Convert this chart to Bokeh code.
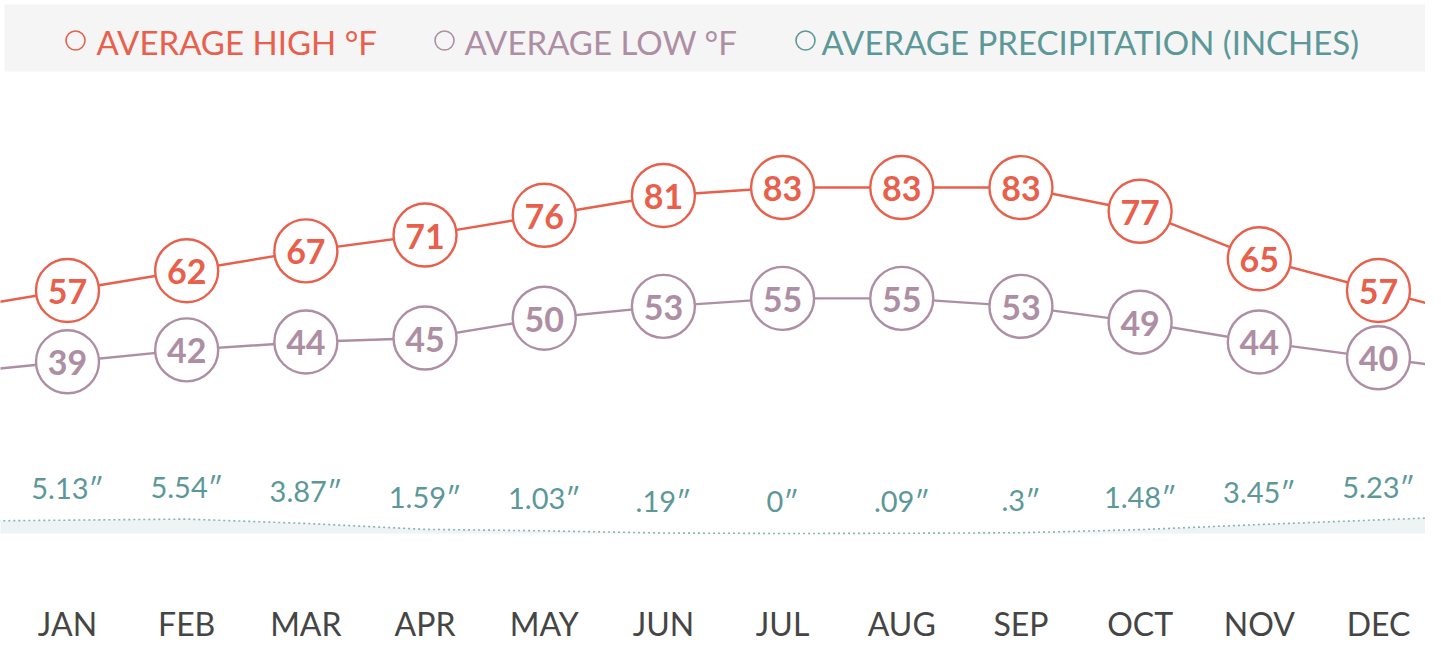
from bokeh.plotting import figure
from bokeh.models import Range1d, BoxAnnotation
from bokeh.embed import file_html
from bokeh.resources import INLINE
from bokeh.core.properties import value

# ---------------- data ----------------
months = ["JAN", "FEB", "MAR", "APR", "MAY", "JUN", "JUL", "AUG", "SEP", "OCT", "NOV", "DEC"]
avg_high = [57, 62, 67, 71, 76, 81, 83, 83, 83, 77, 65, 57]
avg_low = [39, 42, 44, 45, 50, 53, 55, 55, 53, 49, 44, 40]
precip = [5.13, 5.54, 3.87, 1.59, 1.03, 0.19, 0.0, 0.09, 0.3, 1.48, 3.45, 5.23]
precip_labels = ["5.13\u2033", "5.54\u2033", "3.87\u2033", "1.59\u2033", "1.03\u2033", ".19\u2033",
                 "0\u2033", ".09\u2033", ".3\u2033", "1.48\u2033", "3.45\u2033", "5.23\u2033"]
legend_labels = ["AVERAGE HIGH \u00b0F", "AVERAGE LOW \u00b0F", "AVERAGE PRECIPITATION (INCHES)"]

# ---------------- style ----------------
HIGH_C = "#e8604c"
LOW_C = "#ae8ea3"
PRECIP_C = "#5c9898"
MONTH_C = "#454545"
FONT = value("Lato")

W, H = 1425, 647
OFF = 0

# calibration: picture pixel <-> data
X0_PX, DX_PX = 67.0, 119.18
T_REF, T_PX, T_SCALE = 57.0, 290.0, 3.96
P_PX, P_SCALE = 533.0, 2.6


def fx(px):
    return (px - X0_PX) / DX_PX


def fy(py):
    return T_REF - (py - T_PX) / T_SCALE


p = figure(width=W, height=H, output_backend="svg", toolbar_location=None,
           x_range=Range1d(fx(OFF), fx(OFF + W)),
           y_range=Range1d(fy(OFF + H), fy(OFF)),
           min_border=0, outline_line_color=None, background_fill_color="white",
           border_fill_color="white")
p.extra_y_ranges = {"precip": Range1d(-(OFF + H - P_PX) / P_SCALE, (P_PX - OFF) / P_SCALE)}
p.xaxis.visible = False
p.yaxis.visible = False
p.grid.visible = False

xs = list(range(len(months)))


def extend(vals):
    return [2 * vals[0] - vals[1]] + list(vals) + [2 * vals[-1] - vals[-2]]


xs_ext = [-1] + xs + [len(months)]

# ---------------- legend band ----------------
p.add_layout(BoxAnnotation(left=fx(4), right=fx(1460), top=fy(4), bottom=fy(71),
                           fill_color="#f5f5f5", fill_alpha=1, line_color=None, level="underlay"))
leg_colors = [HIGH_C, LOW_C, PRECIP_C]
leg_marker_px = [75, 444, 805]
leg_text_px = [96, 464, 821]
p.scatter(x=[fx(v) for v in leg_marker_px], y=[fy(40)] * 3, marker="circle", size=19,
          fill_color=None, line_color=leg_colors, line_width=1.6)
p.text(x=[fx(v) for v in leg_text_px], y=[fy(41)] * 3, text=legend_labels,
       text_color=leg_colors, text_font=FONT, text_font_size="33px",
       text_align="left", text_baseline="middle")

# ---------------- precipitation ----------------
p_ext = extend(precip)
p.varea(x=xs_ext, y1=[0] * len(p_ext), y2=p_ext, fill_color="#eef4f4", y_range_name="precip")
p.line(x=xs_ext, y=p_ext, line_color="#8ab3b3", line_width=1.6, line_dash="2 3",
       y_range_name="precip")
p.text(x=xs, y=precip, text=precip_labels, y_range_name="precip", y_offset=-33,
       text_color=PRECIP_C, text_font=FONT, text_font_size="29px",
       text_align="center", text_baseline="middle")

# ---------------- temperature lines ----------------
for vals, col in ((avg_high, HIGH_C), (avg_low, LOW_C)):
    p.line(x=xs_ext, y=extend(vals), line_color=col, line_width=2.4)
    p.scatter(x=xs, y=vals, marker="circle", size=63, fill_color="white",
              line_color=col, line_width=2.4)
    p.text(x=xs, y=vals, text=[str(v) for v in vals], text_color=col, text_font=FONT,
           text_font_style="bold", text_font_size="34px", text_align="center",
           text_baseline="middle", y_offset=1)

# ---------------- month labels ----------------
p.text(x=xs, y=[fy(623)] * len(months), text=months, text_color=MONTH_C, text_font=FONT,
       text_font_size="32px", text_align="center", text_baseline="middle")

open("out.html", "w").write(file_html(p, INLINE))
